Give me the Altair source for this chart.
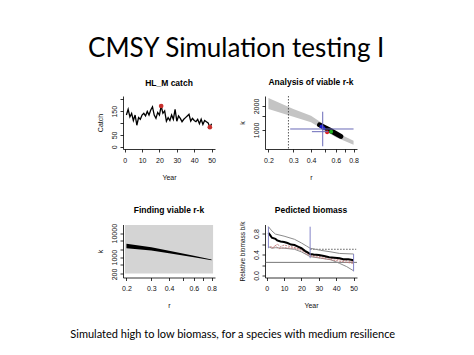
import altair as alt
import pandas as pd

# ---------------- data ----------------
main_title = "CMSY Simulation testing I"
caption = "Simulated high to low biomass, for a species with medium resilience"

# Panel 1: HL_M catch
years = list(range(1, 51))
catch = [134, 158, 126, 141, 111, 134, 91, 123, 116, 134, 141, 130, 149, 134, 155,
         168, 134, 120, 145, 134, 172, 141, 151, 108, 123, 111, 134, 116, 158, 108,
         130, 120, 106, 116, 123, 130, 137, 108, 120, 111, 106, 116, 97, 116, 94,
         111, 106, 101, 83, 97]
red_years = [21, 49]
red_catch = [172, 83]

# Panel 2: Analysis of viable r-k
band_r = [0.2, 0.3, 0.4, 0.6, 0.8]
band_k_hi = [2520, 1835, 1512, 936, 734]
band_k_lo = [1835, 1469, 1249, 810, 654]
prior_r_low = [0.277]
ci_h_r1 = [0.285, 0.406]
ci_h_r2 = [0.80, 0.53]
ci_h_k = [1029, 952]
ci_v_r = [0.484]
ci_v_k1 = [624]
ci_v_k2 = [1697]
blob_r = [0.46, 0.55, 0.65]
blob_k = [1160, 986, 830]
pts_r = [0.475, 0.49, 0.52, 0.555]
pts_k = [1110, 1050, 936, 952]
pts_col = ["#1a1acc", "#1a1acc", "#e02020", "#20b020"]

# Panel 3: Finding viable r-k
cloud_r = [0.195, 0.82]
cloud_k = [210, 22000]
fv_r = [0.2, 0.3, 0.4, 0.6, 0.8]
fv_k_hi = [3600, 2600, 1850, 1150, 800]
fv_k_lo = [2370, 1900, 1470, 1000, 740]

# Panel 4: Pedicted biomass
med_years = [1, 2, 3, 5, 6, 8, 10, 12, 14, 16, 18, 20, 22, 24, 25, 27, 30, 33, 36, 39, 42, 44, 47, 50]
med_b = [0.81, 0.77, 0.72, 0.70, 0.67, 0.65, 0.64, 0.62, 0.59, 0.58, 0.55, 0.52, 0.47, 0.43,
         0.41, 0.40, 0.39, 0.37, 0.35, 0.34, 0.33, 0.31, 0.31, 0.29]
up_years = [1, 3, 5, 10, 16, 20, 23, 25, 31, 37, 42, 50]
up_b = [0.93, 0.85, 0.79, 0.75, 0.69, 0.62, 0.56, 0.52, 0.48, 0.45, 0.42, 0.41]
lo_years = [1, 3, 5, 10, 16, 20, 25, 31, 37, 42, 46, 50]
lo_b = [0.55, 0.52, 0.53, 0.52, 0.50, 0.45, 0.36, 0.33, 0.30, 0.23, 0.17, 0.09]
red1_years = [2, 4, 6, 8, 10, 14, 20, 25, 37, 50]
red1_b = [0.55, 0.53, 0.60, 0.55, 0.58, 0.55, 0.50, 0.39, 0.33, 0.26]
red2_years = [3, 5, 7, 10, 16, 20, 25, 37, 50]
red2_b = [0.52, 0.57, 0.51, 0.53, 0.52, 0.48, 0.37, 0.30, 0.23]
prior_years = [1, 25, 50]
prior_lo = [0.52, 0.33, 0.08]
prior_hi = [0.93, 0.93, 0.41]
half_line = [0.5]
half_from = [25]
half_to = [51.5]
quarter_line = [0.25]

# ---------------- helpers ----------------
RFONT = "Liberation Sans"


def ptitle(text, offset=9):
    return alt.TitleParams(text, font=RFONT, fontSize=8.5, fontWeight="bold",
                           anchor="middle", frame="group", offset=offset, color="black")


def x_year(field):
    return alt.X(f"{field}:Q", title="Year",
                 scale=alt.Scale(domain=[-0.96, 51.96], nice=False, zero=False),
                 axis=alt.Axis(values=[0, 10, 20, 30, 40, 50]))


def x_r(field):
    return alt.X(f"{field}:Q", title="r",
                 scale=alt.Scale(type="log", domain=[0.1891, 0.8461], nice=False),
                 axis=alt.Axis(values=[0.2, 0.3, 0.4, 0.5, 0.6, 0.7, 0.8], format=".1f",
                               labelExpr="datum.value==0.5||datum.value==0.7?'':datum.label"))


W, H = 92, 53

# Panel 1
df1 = pd.DataFrame({"Year": years, "Catch": catch})
df1r = pd.DataFrame({"Year": red_years, "Catch": red_catch})
y_catch = alt.Y("Catch:Q", title="Catch",
                scale=alt.Scale(domain=[-9, 214], nice=False, zero=False),
                axis=alt.Axis(values=[0, 50, 100, 150, 200],
                              labelExpr="datum.value==100||datum.value==200?'':datum.label"))
p1 = alt.layer(
    alt.Chart(df1).mark_line(color="black", strokeWidth=1.3).encode(x_year("Year"), y_catch),
    alt.Chart(df1r).mark_point(filled=True, color="#c8302c", size=22, opacity=1).encode(x_year("Year"), y_catch),
).properties(width=W, height=H, title=ptitle("HL_M catch"))

# Panel 2
def y_k2(field):
    return alt.Y(f"{field}:Q", title="k",
                 scale=alt.Scale(type="log", domain=[577, 2672], nice=False),
                 axis=alt.Axis(values=[1000, 1500, 2000], format="d",
                               labelExpr="datum.value==1500?'':datum.label"))

df2b = pd.DataFrame({"r": band_r, "k_lo": band_k_lo, "k_hi": band_k_hi})
df2p = pd.DataFrame({"r": prior_r_low})
df2h = pd.DataFrame({"r": ci_h_r1, "r2": ci_h_r2, "k": ci_h_k})
df2v = pd.DataFrame({"r": ci_v_r, "k": ci_v_k1, "k2": ci_v_k2})
df2l = pd.DataFrame({"r": blob_r, "k": blob_k})
df2c = pd.DataFrame({"r": pts_r, "k": pts_k, "c": pts_col})
p2 = alt.layer(
    alt.Chart(df2b).mark_area(color="#c4c4c4").encode(x_r("r"), y_k2("k_lo"), y2="k_hi:Q"),
    alt.Chart(df2p).mark_rule(color="#333333", strokeDash=[1.5, 1.5], strokeWidth=0.8).encode(x_r("r")),
    alt.Chart(df2l).mark_line(color="black", strokeWidth=5, strokeCap="round").encode(x_r("r"), y_k2("k")),
    alt.Chart(df2c).mark_point(filled=True, size=16, opacity=1).encode(
        x_r("r"), y_k2("k"), color=alt.Color("c:N", scale=None)),
    alt.Chart(df2h).mark_rule(color="#6a6ab8", strokeWidth=1).encode(x_r("r"), x2="r2:Q", y=y_k2("k")),
    alt.Chart(df2v).mark_rule(color="#6a6ab8", strokeWidth=1).encode(x_r("r"), y_k2("k"), y2="k2:Q"),
).properties(width=W, height=H, title=ptitle("Analysis of viable r-k"))

# Panel 3
def y_k3(field):
    return alt.Y(f"{field}:Q", title="k",
                 scale=alt.Scale(type="log", domain=[142.5, 23060], nice=False),
                 axis=alt.Axis(values=[200, 500, 1000, 2000, 5000, 10000], format="d",
                               labelExpr="datum.value==200||datum.value==1000||datum.value==10000?datum.label:''"))

df3c = pd.DataFrame({"r": [cloud_r[0]], "r2": [cloud_r[1]], "k": [cloud_k[0]], "k2": [cloud_k[1]]})
df3b = pd.DataFrame({"r": fv_r, "k_lo": fv_k_lo, "k_hi": fv_k_hi})
p3 = alt.layer(
    alt.Chart(df3c).mark_rect(color="#d4d4d4").encode(x_r("r"), x2="r2:Q", y=y_k3("k"), y2="k2:Q"),
    alt.Chart(df3b).mark_area(color="black").encode(x_r("r"), y_k3("k_lo"), y2="k_hi:Q"),
).properties(width=W, height=H, title=ptitle("Finding viable r-k"))

# Panel 4
def y_b(field):
    return alt.Y(f"{field}:Q", title="Relative biomass b/k",
                 scale=alt.Scale(domain=[-0.038, 0.972], nice=False, zero=False),
                 axis=alt.Axis(values=[0, 0.2, 0.4, 0.6, 0.8], format=".1f", titleFontSize=6.5,
                               labelExpr="datum.value==0.2||datum.value==0.6?'':datum.label"))

df4m = pd.DataFrame({"Year": med_years, "B": med_b})
df4u = pd.DataFrame({"Year": up_years, "B": up_b})
df4l = pd.DataFrame({"Year": lo_years, "B": lo_b})
df4r1 = pd.DataFrame({"Year": red1_years, "B": red1_b})
df4r2 = pd.DataFrame({"Year": red2_years, "B": red2_b})
df4p = pd.DataFrame({"Year": prior_years, "B": prior_lo, "B2": prior_hi})
df4h = pd.DataFrame({"Year": half_from, "Y2": half_to, "B": half_line})
df4q = pd.DataFrame({"B": quarter_line})
p4 = alt.layer(
    alt.Chart(df4q).mark_rule(color="#555555", strokeWidth=0.8).encode(y=y_b("B")),
    alt.Chart(df4h).mark_rule(color="#333333", strokeDash=[1.5, 1.5], strokeWidth=0.8).encode(
        x_year("Year"), x2="Y2:Q", y=y_b("B")),
    alt.Chart(df4u).mark_line(color="#8c8c8c", strokeWidth=1).encode(x_year("Year"), y_b("B")),
    alt.Chart(df4l).mark_line(color="#8c8c8c", strokeWidth=1).encode(x_year("Year"), y_b("B")),
    alt.Chart(df4r1).mark_line(color="#c07878", strokeWidth=0.9, strokeDash=[2, 1]).encode(x_year("Year"), y_b("B")),
    alt.Chart(df4r2).mark_line(color="#c07878", strokeWidth=0.9, strokeDash=[2, 1]).encode(x_year("Year"), y_b("B")),
    alt.Chart(df4m).mark_line(color="black", strokeWidth=2).encode(x_year("Year"), y_b("B")),
    alt.Chart(df4p).mark_rule(color="#8484c8", strokeWidth=1).encode(x_year("Year"), y_b("B"), y2="B2:Q"),
).properties(width=W, height=H, title=ptitle("Pedicted biomass", offset=6.7))

grid = alt.concat(
    p1, p2, p3, p4, columns=2, spacing={"row": 75.5, "column": 50}, bounds="flush",
    title=alt.TitleParams(caption, orient="bottom", anchor="middle", font="Lato", fontSize=11,
                          fontWeight="normal", color="black", offset=20, dx=5.5),
)

chart = alt.vconcat(
    grid,
    title=alt.TitleParams(main_title, anchor="middle", font="Lato", fontSize=26,
                          fontWeight="normal", color="black", offset=16, dx=3.5),
    padding={"left": 61, "top": 28, "right": 5, "bottom": 5},
).configure_view(stroke=None).configure_axis(
    grid=False, domainColor="black", tickColor="black", labelColor="#111111", titleColor="#111111",
    labelFont=RFONT, titleFont=RFONT, labelFontSize=7, titleFontSize=7, titleFontWeight="normal",
    tickSize=3, domainWidth=0.8, tickWidth=0.8, labelOverlap=False, labelFlush=False,
).configure_axisX(labelPadding=4, titlePadding=10).configure_axisY(
    labelAngle=270, labelAlign="center", labelBaseline="bottom", labelPadding=3, titlePadding=7,
)

chart.save("out.html", embed_options={"renderer": "svg", "actions": False})
